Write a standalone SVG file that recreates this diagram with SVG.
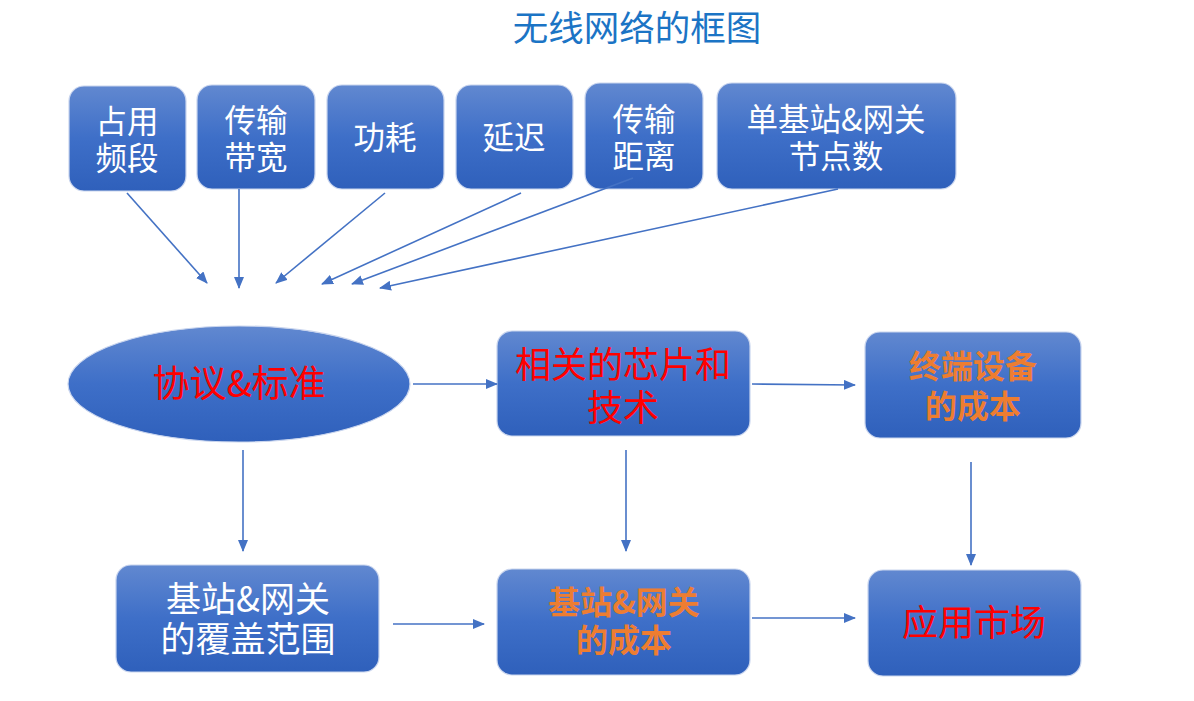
<svg xmlns="http://www.w3.org/2000/svg" width="1194" height="701" viewBox="0 0 1194 701">
<defs>
<linearGradient id="g" x1="0" y1="0" x2="0" y2="1">
<stop offset="0" stop-color="#6188d0"/>
<stop offset="0.5" stop-color="#3e6fc8"/>
<stop offset="1" stop-color="#2f60bb"/>
</linearGradient>
<marker id="ah" viewBox="0 0 12 10" refX="11" refY="5" markerWidth="12" markerHeight="10" markerUnits="userSpaceOnUse" orient="auto">
<path d="M0,0 L12,5 L0,10 z" fill="#4472c4"/>
</marker>
</defs>
<style>
.box{fill:url(#g);stroke:#c9d5ee;stroke-width:1.2}
.t{font-family:"Noto Sans CJK SC","Microsoft YaHei",sans-serif;text-anchor:middle}
.w{fill:#ffffff;font-size:31.5px}
.r{fill:#ff0000;font-size:36px}
.o{fill:#ed7d31;font-size:32px;font-weight:bold}
.c line{stroke:#4472c4;stroke-width:1.6;marker-end:url(#ah)}
</style>
<rect width="1194" height="701" fill="#ffffff"/>
<text class="t" x="637" y="41" style="font-size:35.5px;fill:#1b74c5">无线网络的框图</text>

<g id="n1"><rect class="box" x="69" y="86" width="117" height="105" rx="15"/><text class="t w" x="127" y="133">占用<tspan x="127" dy="37">频段</tspan></text></g>
<g id="n2"><rect class="box" x="197" y="85" width="118" height="104" rx="15"/><text class="t w" x="256" y="132">传输<tspan x="256" dy="37">带宽</tspan></text></g>
<g id="n3"><rect class="box" x="327" y="85" width="117" height="104" rx="15"/><text class="t w" x="385" y="149">功耗</text></g>
<g id="n4"><rect class="box" x="456" y="85" width="117" height="104" rx="15"/><text class="t w" x="514" y="149">延迟</text></g>
<g id="n5"><rect class="box" x="585" y="83" width="118" height="106" rx="15"/><text class="t w" x="644" y="131">传输<tspan x="644" dy="37">距离</tspan></text></g>
<g id="n6"><rect class="box" x="717" y="83" width="239" height="106" rx="15"/><text class="t w" x="836" y="131">单基站&amp;网关<tspan x="836" dy="37">节点数</tspan></text></g>

<g id="n7"><ellipse class="box" cx="239" cy="384" rx="171" ry="58"/><text class="t r" x="239" y="397" style="font-size:37px">协议&amp;标准</text></g>
<g id="n8"><rect class="box" x="497" y="331" width="253" height="105" rx="15"/><text class="t r" x="623" y="378">相关的芯片和<tspan x="623" dy="43">技术</tspan></text></g>
<g id="n9"><rect class="box" x="865" y="332" width="216" height="106" rx="15"/><text class="t o" x="973" y="378">终端设备<tspan x="973" dy="40">的成本</tspan></text></g>
<g id="n10"><rect class="box" x="116" y="565" width="263" height="107" rx="15"/><text class="t w" x="248" y="612" style="font-size:35px">基站&amp;网关<tspan x="248" dy="40">的覆盖范围</tspan></text></g>
<g id="n11"><rect class="box" x="497" y="569" width="253" height="106" rx="15"/><text class="t o" x="624" y="614">基站&amp;网关<tspan x="624" dy="38">的成本</tspan></text></g>
<g id="n12"><rect class="box" x="868" y="570" width="213" height="106" rx="15"/><text class="t r" x="974" y="636">应用市场</text></g>

<g id="connectors" class="c">
<line x1="127" y1="193" x2="207" y2="283"/>
<line x1="239" y1="189" x2="239" y2="288"/>
<line x1="385" y1="193" x2="276" y2="283"/>
<line x1="521" y1="193" x2="322" y2="284"/>
<line x1="633" y1="178" x2="352" y2="284"/>
<line x1="838" y1="189" x2="380" y2="288"/>
<line x1="413" y1="384" x2="497" y2="384"/>
<line x1="752" y1="384" x2="855" y2="385"/>
<line x1="243" y1="450" x2="243" y2="551"/>
<line x1="626" y1="450" x2="626" y2="551"/>
<line x1="971" y1="462" x2="971" y2="565"/>
<line x1="393" y1="624" x2="484" y2="624"/>
<line x1="752" y1="618" x2="855" y2="618"/>
</g>
</svg>
